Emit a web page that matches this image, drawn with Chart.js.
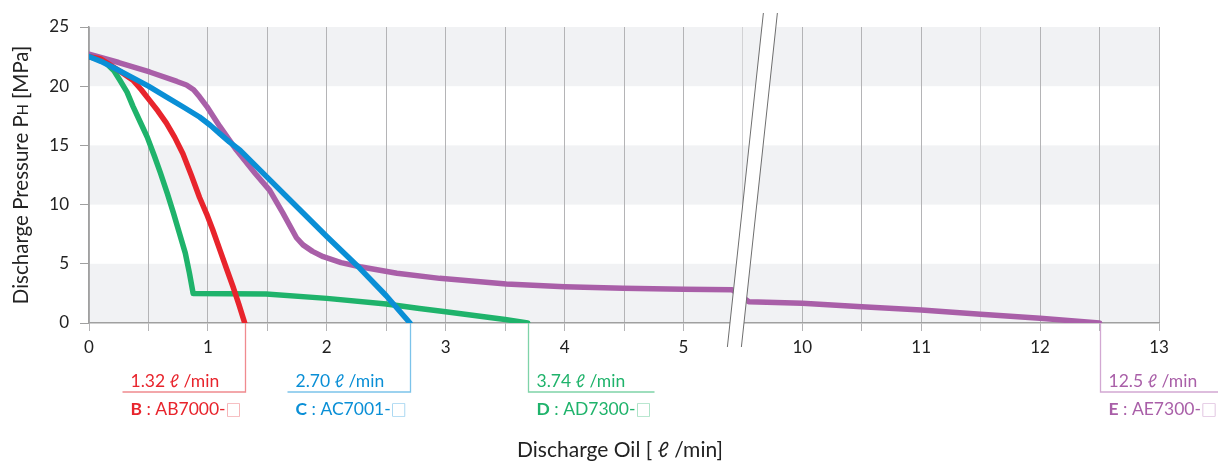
<!DOCTYPE html>
<html>
<head>
<meta charset="utf-8">
<script src="https://cdn.jsdelivr.net/npm/chart.js@4/dist/chart.umd.min.js"></script>
<style>
  html, body { margin: 0; padding: 0; background: #fff; }
  #wrap { width: 1218px; height: 462px; position: relative; }
</style>
</head>
<body>
<div id="wrap"><canvas id="c" width="1218" height="462"></canvas></div>
<script>
// ---- Data (real discharge oil values in l/min, pressure in MPa) ----
const xTickValues = [0, 1, 2, 3, 4, 5, 10, 11, 12, 13];
const yTickValues = [0, 5, 10, 15, 20, 25];

const seriesNames = ['B', 'C', 'D', 'E'];
const modelNames = ['AB7000-', 'AC7001-', 'AD7300-', 'AE7300-'];
const flowLabels = ['1.32 \u2113 /min', '2.70 \u2113 /min', '3.74 \u2113 /min', '12.5 \u2113 /min'];

const flowB = [0, 0.1, 0.176, 0.27, 0.37, 0.44, 0.51, 0.58, 0.65, 0.72, 0.79, 0.86, 0.93, 0.99, 1.04, 1.10, 1.16, 1.21, 1.26, 1.31];
const presB = [22.5, 22.3, 21.8, 21.2, 20.5, 19.7, 18.8, 17.9, 16.9, 15.7, 14.3, 12.5, 10.6, 9.2, 7.9, 6.2, 4.5, 3.1, 1.6, 0];

const flowC = [0, 0.1, 0.2, 0.37, 0.5, 0.65, 0.8, 0.93, 1.02, 1.1, 1.18, 1.27, 1.5, 1.75, 2.0, 2.28, 2.5, 2.7];
const presC = [22.5, 22.1, 21.6, 20.7, 20.0, 19.1, 18.2, 17.4, 16.7, 16.0, 15.3, 14.6, 12.3, 9.8, 7.3, 4.6, 2.3, 0];

const flowD = [0, 0.08, 0.15, 0.21, 0.26, 0.32, 0.37, 0.43, 0.49, 0.55, 0.60, 0.66, 0.71, 0.76, 0.81, 0.845, 0.876, 1.49, 2.0, 2.5, 2.78, 3.0, 3.5, 3.69];
const presD = [22.5, 22.3, 21.9, 21.3, 20.5, 19.5, 18.3, 17.0, 15.7, 14.1, 12.7, 10.9, 9.3, 7.6, 5.9, 4.2, 2.5, 2.45, 2.08, 1.6, 1.22, 0.95, 0.3, 0];

const flowE = [0, 0.25, 0.51, 0.74, 0.82, 0.88, 0.93, 0.99, 1.1, 1.24, 1.4, 1.52, 1.63, 1.745, 1.80, 1.88, 1.97, 2.12, 2.28, 2.59, 2.95, 3.51, 4.0, 4.49, 5.0, 5.41, 9.55, 10, 10.5, 11, 11.5, 12, 12.5];
const presE = [22.7, 22.0, 21.2, 20.4, 20.1, 19.7, 19.1, 18.3, 16.6, 14.6, 12.6, 11.2, 9.3, 7.2, 6.6, 6.05, 5.6, 5.1, 4.75, 4.2, 3.77, 3.3, 3.07, 2.93, 2.85, 2.8, 1.8, 1.66, 1.38, 1.1, 0.73, 0.4, 0];

const colors = ['#e8242c', '#0a8fd6', '#1fb36b', '#a95fa8'];
const lightColors = ['#f08a8f', '#7cc3ea', '#7fd3a8', '#d2a8d2'];

// ---- Broken axis mapping: real values >= 9.5 are shifted left by 4 ----
const BREAK_SHIFT = 4;
function toAxis(v) { return v > 7 ? v - BREAK_SHIFT : v; }
function fromAxis(p) { return p > 5.5 ? p + BREAK_SHIFT : p; }

function makePoints(xs, ys) { return xs.map((x, i) => ({ x: toAxis(x), y: ys[i] })); }

const flows = [flowB, flowC, flowD, flowE];
const pressures = [presB, presC, presD, presE];

const FONT = 'Lato, "Noto Sans", "DejaVu Sans", sans-serif';

const datasets = flows.map((f, i) => ({
  label: seriesNames[i],
  data: makePoints(f, pressures[i]),
  borderColor: colors[i],
  backgroundColor: colors[i],
  borderWidth: 5.5,
  pointRadius: 0,
  tension: 0,
  borderCapStyle: 'round',
  borderJoinStyle: 'round',
  fill: false
}));
// dataset 0 is drawn on top -> blue, red, purple, green (bottom)
const drawOrder = [1, 0, 3, 2];
const orderedDatasets = drawOrder.map(i => datasets[i]);

const bandsPlugin = {
  id: 'bands',
  beforeDraw(chart) {
    const { ctx, chartArea } = chart;
    const y = chart.scales.y;
    ctx.save();
    ctx.fillStyle = '#f1f2f4';
    for (let k = 0; k < yTickValues.length - 1; k += 2) {
      const top = y.getPixelForValue(yTickValues[k + 1]);
      const bot = y.getPixelForValue(yTickValues[k]);
      ctx.fillRect(chartArea.left, top, chartArea.right - chartArea.left, bot - top);
    }
    ctx.restore();
  }
};

const breakPlugin = {
  id: 'axisBreak',
  afterDraw(chart) {
    const { ctx, chartArea } = chart;
    const x = chart.scales.x;
    const cx = x.getPixelForValue(5.5);
    const yTop = chartArea.top - 14;
    const yBot = chartArea.bottom + 24;
    const l1t = cx + 20.5, l1b = cx - 15.5;
    const l2t = cx + 34.5, l2b = cx - 1.5;
    ctx.save();
    ctx.fillStyle = '#ffffff';
    ctx.beginPath();
    ctx.moveTo(l1t, yTop); ctx.lineTo(l2t, yTop); ctx.lineTo(l2b, yBot); ctx.lineTo(l1b, yBot);
    ctx.closePath();
    ctx.fill();
    ctx.strokeStyle = '#6e6e6e';
    ctx.lineWidth = 1;
    ctx.beginPath();
    ctx.moveTo(l1t, yTop); ctx.lineTo(l1b, yBot);
    ctx.moveTo(l2t, yTop); ctx.lineTo(l2b, yBot);
    ctx.stroke();
    ctx.restore();
  }
};

const labelsPlugin = {
  id: 'calloutLabels',
  afterDraw(chart) {
    const { ctx, chartArea } = chart;
    const x = chart.scales.x;
    const lineY = 392;
    const valY = 381;
    const modelY = 409;
    ctx.save();
    ctx.textBaseline = 'middle';
    flows.forEach((f, i) => {
      const endX = Math.round(x.getPixelForValue(toAxis(f[f.length - 1]))) + 0.5;
      const leftSide = i < 2;
      ctx.strokeStyle = lightColors[i];
      ctx.lineWidth = 1.3;
      ctx.beginPath();
      ctx.moveTo(endX, chartArea.bottom);
      ctx.lineTo(endX, lineY);
      if (leftSide) ctx.lineTo(endX - 123, lineY);
      else ctx.lineTo(endX + 126, lineY);
      ctx.stroke();
      const tx = leftSide ? endX - 115 : endX + 8;
      ctx.fillStyle = colors[i];
      ctx.font = '17.5px ' + FONT;
      ctx.textAlign = 'left';
      ctx.fillText(flowLabels[i], tx, valY);
      // model line
      let cur = tx;
      ctx.font = 'bold 17.5px ' + FONT;
      ctx.fillText(seriesNames[i], cur, modelY);
      cur += ctx.measureText(seriesNames[i]).width;
      ctx.font = '17.5px ' + FONT;
      const mid = ' : ' + modelNames[i];
      ctx.fillText(mid, cur, modelY);
      cur += ctx.measureText(mid).width;
      ctx.fillStyle = lightColors[i];
      ctx.font = '16px "Noto Sans CJK JP", "DejaVu Sans", sans-serif';
      ctx.fillText('\u25A1', cur, modelY + 1);
    });
    // axis titles
    ctx.fillStyle = '#222';
    ctx.textAlign = 'center';
    ctx.font = '21px ' + FONT;
    ctx.fillText('Discharge Oil [ \u2113 /min]', 620, 450);
    // y title with small H
    ctx.save();
    ctx.translate(21, 175);
    ctx.rotate(-Math.PI / 2);
    const p1 = 'Discharge Pressure P';
    const p2 = 'H';
    const p3 = ' [MPa]';
    ctx.font = '20.5px ' + FONT;
    const w1 = ctx.measureText(p1).width;
    const w3 = ctx.measureText(p3).width;
    ctx.font = '14.5px ' + FONT;
    const w2 = ctx.measureText(p2).width;
    const total = w1 + w2 + w3;
    let px = -total / 2;
    ctx.textAlign = 'left';
    ctx.textBaseline = 'alphabetic';
    ctx.font = '20.5px ' + FONT;
    ctx.fillText(p1, px, 7); px += w1;
    ctx.font = '14.5px ' + FONT;
    ctx.fillText(p2, px, 7); px += w2;
    ctx.font = '20.5px ' + FONT;
    ctx.fillText(p3, px, 7);
    ctx.restore();
    ctx.restore();
  }
};

const chart = new Chart(document.getElementById('c'), {
  type: 'line',
  data: { datasets: orderedDatasets },
  plugins: [bandsPlugin, breakPlugin, labelsPlugin],
  options: {
    responsive: false,
    animation: false,
    events: [],
    layout: { padding: { top: 27, right: 59, left: 0, bottom: 0 } },
    plugins: { legend: { display: false }, tooltip: { enabled: false } },
    scales: {
      x: {
        type: 'linear',
        min: 0,
        max: toAxis(xTickValues[xTickValues.length - 1]),
        afterBuildTicks(scale) {
          const ticks = [];
          const maxP = toAxis(xTickValues[xTickValues.length - 1]);
          for (let p = 0; p <= maxP + 1e-9; p += 0.5) ticks.push({ value: p });
          scale.ticks = ticks;
        },
        afterFit(scale) { scale.height = 139; },
        ticks: {
          autoSkip: false,
          maxRotation: 0,
          padding: 6,
          color: '#222',
          font: { family: FONT, size: 17 },
          callback(value) {
            const real = fromAxis(value);
            return xTickValues.includes(Math.round(real * 100) / 100) && Math.abs(real - Math.round(real)) < 1e-6 ? String(Math.round(real)) : '';
          }
        },
        grid: {
          color(ctx) {
            const v = ctx.tick ? ctx.tick.value : 0;
            if (Math.abs(v - 5.5) < 1e-6 || Math.abs(v - 7.5) < 1e-6) return '#d2d2d4';
            return '#b4b4b6';
          },
          lineWidth: 1,
          tickLength: 8,
          drawTicks: true
        },
        border: { color: '#a0a0a0', width: 1.5 }
      },
      y: {
        type: 'linear',
        min: yTickValues[0],
        max: yTickValues[yTickValues.length - 1],
        afterBuildTicks(scale) { scale.ticks = yTickValues.map(v => ({ value: v })); },
        afterFit(scale) { scale.width = 89; },
        ticks: {
          padding: 11,
          color: '#222',
          font: { family: FONT, size: 17 }
        },
        grid: {
          drawOnChartArea: false,
          drawTicks: true,
          tickLength: 9,
          color: '#a0a0a0'
        },
        border: { color: '#a0a0a0', width: 1.5 }
      }
    }
  }
});
</script>
</body>
</html>
